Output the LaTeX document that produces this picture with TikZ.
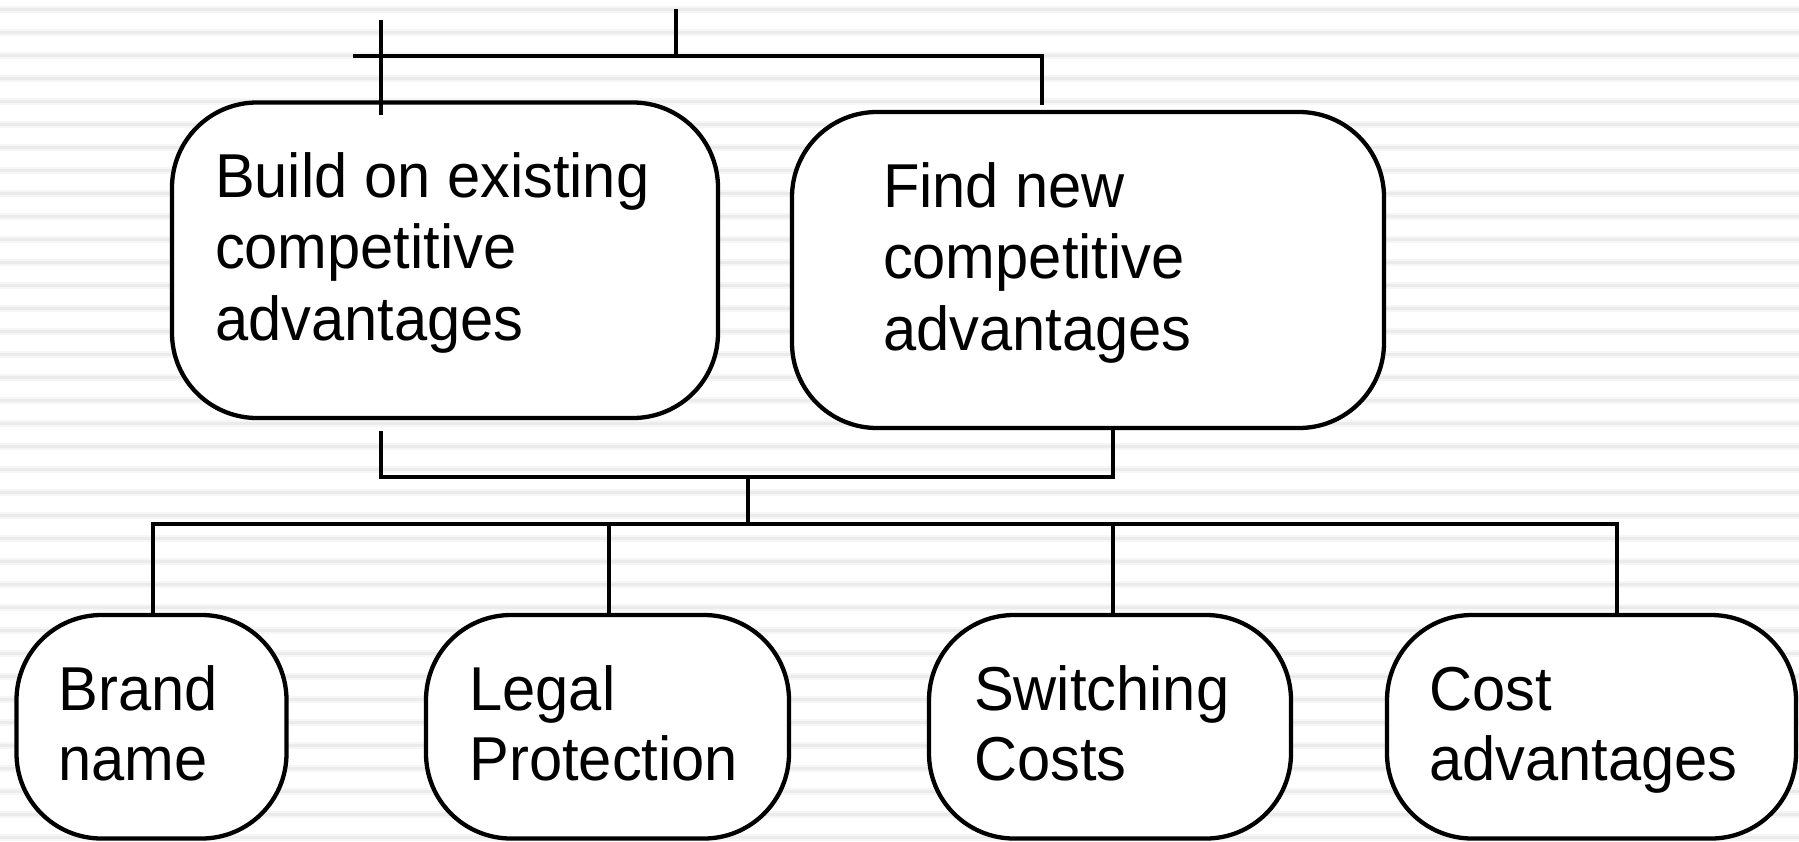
\documentclass[tikz,border=0pt]{standalone}
\usepackage{fontspec}
\setmainfont{Liberation Sans}[FakeStretch=0.962]
\definecolor{stripe}{HTML}{EBEBEB}
\definecolor{stripesoft}{HTML}{F6F6F6}
\newcommand\TopTxt{\fontsize{62}{71.5}\selectfont}
\newcommand\BotTxt{\fontsize{62}{70.5}\selectfont}
\begin{document}
\begin{tikzpicture}[x=1pt,y=-1pt,
  box/.style={draw=black, line width=4.3pt, fill=white, rounded corners=85pt, inner sep=0pt, outer sep=0pt},
  conn/.style={draw=black, line width=4pt},
  lbl/.style={anchor=base west, inner sep=0pt, outer sep=0pt},
]
\useasboundingbox (0,0) rectangle (1799,841);
\fill[white] (0,0) rectangle (1799,841);
\foreach \k in {0,...,36} {
  \draw[stripesoft, line width=7pt] (0,9.3+23*\k) -- (1799,9.3+23*\k);
  \draw[stripe, line width=3pt] (0,9.3+23*\k) -- (1799,9.3+23*\k);
}

% top boxes
\node[box, minimum width=546pt, minimum height=315.5pt] (A) at (445,260.25) {};
\node[box, minimum width=592pt, minimum height=316pt] (B) at (1088,270) {};
% bottom boxes
\node[box, minimum width=270pt, minimum height=223.5pt] (brand) at (151.5,726.75) {};
\node[box, minimum width=363pt, minimum height=223.5pt] (legal) at (607.5,726.75) {};
\node[box, minimum width=362pt, minimum height=223.5pt] (switch) at (1110,726.75) {};
\node[box, minimum width=409pt, minimum height=223.5pt] (cost) at (1591.5,726.75) {};

% texts
\node[lbl] (tA) at (215,197) {\TopTxt\vtop{\hbox{Build on existing}\hbox{competitive}\hbox{advantages}}};
\node[lbl] (tB) at (883,207) {\TopTxt\vtop{\hbox{Find new}\hbox{competitive}\hbox{advantages}}};
\node[lbl] (tbrand) at (58.5,710) {\BotTxt\vtop{\hbox{Brand}\hbox{name}}};
\node[lbl] (tlegal) at (469.5,710) {\BotTxt\vtop{\hbox{Legal}\hbox{Protection}}};
\node[lbl] (tswitch) at (974,710) {\BotTxt\vtop{\hbox{Switching}\hbox{Costs}}};
\node[lbl] (tcost) at (1429,710) {\BotTxt\vtop{\hbox{Cost}\hbox{advantages}}};

% top connectors
\coordinate (topin) at (676,9);
\coordinate (topj) at (676,56);
\coordinate (topstub) at (353,56);
\coordinate (topR) at (1042,56);
\coordinate (rightEnd) at (1042,105);
\coordinate (tickTop) at (381,20);
\coordinate (tickBot) at (381,115);
\draw[conn] (topin) -- (topj);
\draw[conn] (topstub) -- (topR) -- (rightEnd);
\draw[conn] (tickTop) -- (tickBot);

% middle bracket
\coordinate (mL) at (381,431);
\coordinate (mR) at ([xshift=25pt]B.south);
\coordinate (jm) at (748,477);
\coordinate (jb) at (748,524);
\draw[conn] (mL) -- (mL |- jm) -- (jm -| mR) -- (mR);
\draw[conn] (jm) -- (jb);

% bus and drops
\coordinate (c1) at (153,524);
\coordinate (c2) at (609,524);
\coordinate (c3) at (1113,524);
\coordinate (c4) at (1617,524);
\draw[conn] (c1 |- brand.north) -- (c1) -- (c4) -- (c4 |- cost.north);
\draw[conn] (c2) -- (c2 |- legal.north);
\draw[conn] (c3) -- (c3 |- switch.north);
\end{tikzpicture}
\end{document}
